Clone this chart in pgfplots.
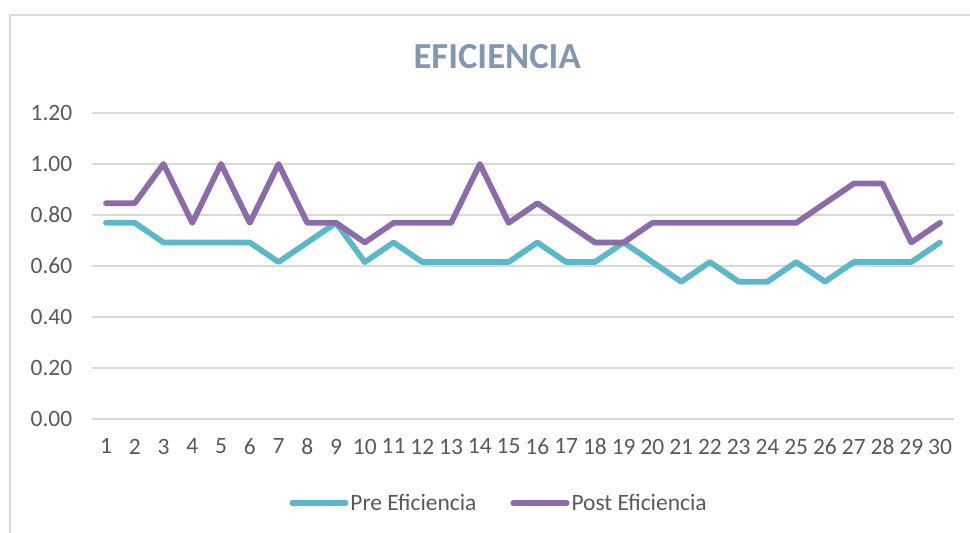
\documentclass[border=0pt]{standalone}
\usepackage{pgfplots}
\usepackage{pgfplotstable}
\pgfplotsset{compat=1.18}
\usepackage{fontspec}
\setmainfont{Carlito}

\definecolor{preC}{HTML}{5BB8C9}
\definecolor{postC}{HTML}{8B6BAA}
\definecolor{titleC}{HTML}{8497B0}
\definecolor{labelC}{HTML}{595959}
\definecolor{gridC}{HTML}{D9D9D9}

\pgfplotstableread{
n  pre     post
1  0.7692  0.8462
2  0.7692  0.8462
3  0.6923  1.0000
4  0.6923  0.7692
5  0.6923  1.0000
6  0.6923  0.7692
7  0.6154  1.0000
8  0.6923  0.7692
9  0.7692  0.7692
10 0.6154  0.6923
11 0.6923  0.7692
12 0.6154  0.7692
13 0.6154  0.7692
14 0.6154  1.0000
15 0.6154  0.7692
16 0.6923  0.8462
17 0.6154  0.7692
18 0.6154  0.6923
19 0.6923  0.6923
20 0.6154  0.7692
21 0.5385  0.7692
22 0.6154  0.7692
23 0.5385  0.7692
24 0.5385  0.7692
25 0.6154  0.7692
26 0.5385  0.8462
27 0.6154  0.9231
28 0.6154  0.9231
29 0.6154  0.6923
30 0.6923  0.7692
}\efdata

\begin{document}
\begin{tikzpicture}
\useasboundingbox (0,0) rectangle (727.5pt,399pt);
% chart frame
\draw[overlay, gridC, line width=1pt] (7.5pt,-10pt) -- (7.5pt,387.75pt) -- (740pt,387.75pt);
\begin{axis}[
  at={(68.7pt,84.75pt)}, anchor=south west,
  scale only axis, width=647.1pt, height=229.5pt,
  xmin=0.5, xmax=30.5, ymin=0, ymax=1.2,
  xtick={1,...,30},
  ytick={0,0.2,...,1.2},
  axis line style={draw=none},
  major tick length=0pt,
  ymajorgrids, major grid style={gridC, line width=1.1pt},
  clip=false,
  /pgf/number format/assume math mode=true,
  tick label style={font=\fontsize{17.6}{20}\selectfont, text=labelC},
  yticklabel style={/pgf/number format/.cd, fixed, fixed zerofill, precision=2, /tikz/.cd, xshift=-11pt},
  xticklabel style={yshift=-11.3pt},
  title={EFICIENCIA},
  title style={at={(0.47,1.157)}, anchor=center, font=\fontsize{27.5}{30}\selectfont\bfseries, text=titleC},
  legend columns=2,
  legend style={at={(0.4722,-0.2745)}, anchor=center, draw=none, fill=none,
    font=\fontsize{17.6}{20}\selectfont, text=labelC, inner sep=0pt,
    nodes={inner sep=1.5pt},
    /tikz/every even column/.append style={column sep=24pt}},
  legend image code/.code={\draw[#1, line cap=round] (0pt,0pt) -- (40pt,0pt);},
  every axis plot/.append style={line width=4.3pt, line join=round, line cap=round},
]
\addplot[preC] table[x=n, y=pre] {\efdata};
\addlegendentry{Pre Eficiencia}
\addplot[postC] table[x=n, y=post] {\efdata};
\addlegendentry{Post Eficiencia}
\end{axis}
\end{tikzpicture}
\end{document}
